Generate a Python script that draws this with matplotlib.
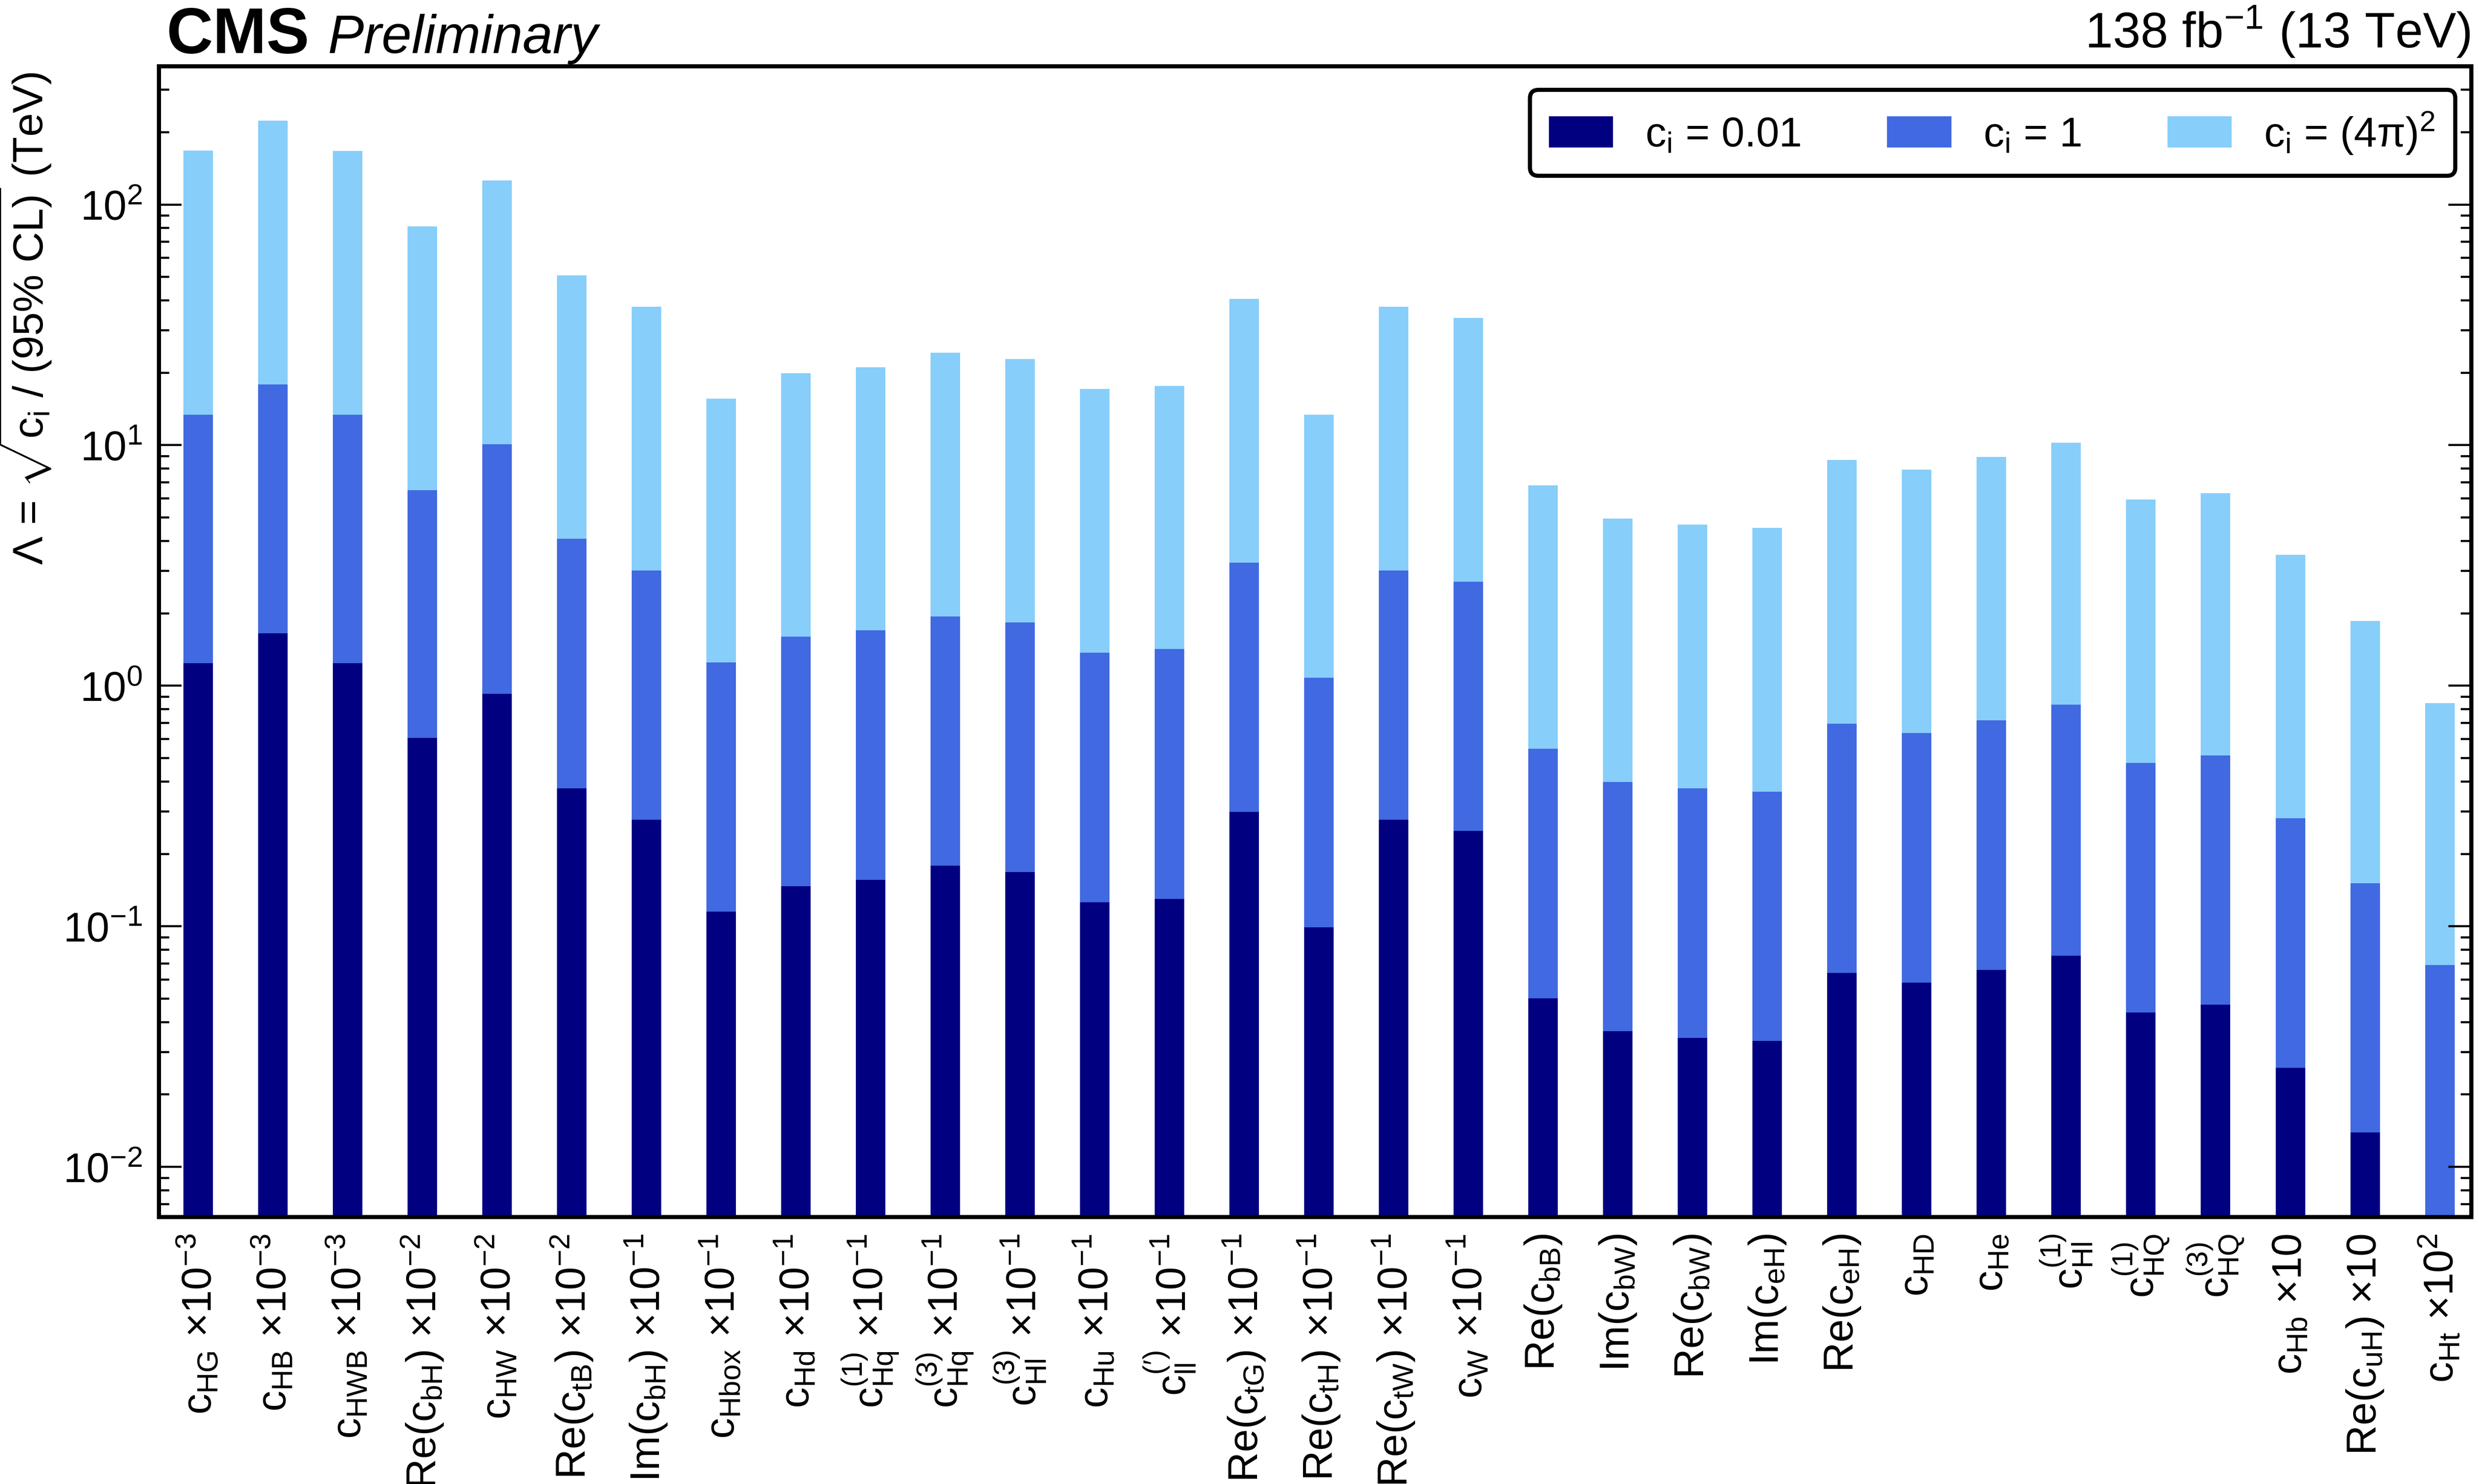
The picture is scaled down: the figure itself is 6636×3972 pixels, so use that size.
import numpy as np
import matplotlib
matplotlib.use("Agg")
import matplotlib.pyplot as plt
from matplotlib.patches import Patch

plt.rcParams['font.family'] = ['Liberation Sans', 'DejaVu Sans']
plt.rcParams['mathtext.fontset'] = 'custom'
plt.rcParams['mathtext.rm'] = 'Liberation Sans'
plt.rcParams['mathtext.it'] = 'Liberation Sans:italic'
plt.rcParams['mathtext.bf'] = 'Liberation Sans:bold'

# Wilson coefficient labels (with the scaling applied to each)
labels = [
    r"$\mathrm{c_{HG}}$ $\times$10$^{-3}$",
    r"$\mathrm{c_{HB}}$ $\times$10$^{-3}$",
    r"$\mathrm{c_{HWB}}$ $\times$10$^{-3}$",
    r"Re($\mathrm{c_{bH}}$) $\times$10$^{-2}$",
    r"$\mathrm{c_{HW}}$ $\times$10$^{-2}$",
    r"Re($\mathrm{c_{tB}}$) $\times$10$^{-2}$",
    r"Im($\mathrm{c_{bH}}$) $\times$10$^{-1}$",
    r"$\mathrm{c_{Hbox}}$ $\times$10$^{-1}$",
    r"$\mathrm{c_{Hd}}$ $\times$10$^{-1}$",
    r"$\mathrm{c_{Hq}^{(1)}}$ $\times$10$^{-1}$",
    r"$\mathrm{c_{Hq}^{(3)}}$ $\times$10$^{-1}$",
    r"$\mathrm{c_{Hl}^{(3)}}$ $\times$10$^{-1}$",
    r"$\mathrm{c_{Hu}}$ $\times$10$^{-1}$",
    r"$\mathrm{c_{ll}^{(\prime)}}$ $\times$10$^{-1}$",
    r"Re($\mathrm{c_{tG}}$) $\times$10$^{-1}$",
    r"Re($\mathrm{c_{tH}}$) $\times$10$^{-1}$",
    r"Re($\mathrm{c_{tW}}$) $\times$10$^{-1}$",
    r"$\mathrm{c_{W}}$ $\times$10$^{-1}$",
    r"Re($\mathrm{c_{bB}}$)",
    r"Im($\mathrm{c_{bW}}$)",
    r"Re($\mathrm{c_{bW}}$)",
    r"Im($\mathrm{c_{eH}}$)",
    r"Re($\mathrm{c_{eH}}$)",
    r"$\mathrm{c_{HD}}$",
    r"$\mathrm{c_{He}}$",
    r"$\mathrm{c_{Hl}^{(1)}}$",
    r"$\mathrm{c_{HQ}^{(1)}}$",
    r"$\mathrm{c_{HQ}^{(3)}}$",
    r"$\mathrm{c_{Hb}}$ $\times$10",
    r"Re($\mathrm{c_{uH}}$) $\times$10",
    r"$\mathrm{c_{Ht}}$ $\times$10$^{2}$",
]

# Lambda limits in TeV
lam_001 = [1.24, 1.65, 1.24, 0.607, 0.927, 0.375, 0.277, 0.115, 0.147, 0.156,
           0.179, 0.168, 0.126, 0.130, 0.299, 0.099, 0.277, 0.249, 0.0502, 0.0366,
           0.0344, 0.0334, 0.064, 0.0584, 0.0659, 0.0755, 0.0438, 0.0473, 0.0258, 0.0139,
           np.nan]
lam_1 = [13.4, 17.9, 13.4, 6.51, 10.1, 4.08, 3.01, 1.25, 1.60, 1.70,
         1.94, 1.83, 1.37, 1.42, 3.25, 1.08, 3.01, 2.71, 0.547, 0.398,
         0.375, 0.363, 0.696, 0.636, 0.717, 0.834, 0.477, 0.514, 0.281, 0.151,
         0.069]
lam_4pi2 = [167.6, 223, 167, 81.2, 125.8, 50.8, 37.6, 15.6, 19.9, 21.1,
            24.2, 22.8, 17.1, 17.6, 40.5, 13.4, 37.6, 33.8, 6.81, 4.96,
            4.67, 4.53, 8.68, 7.92, 8.94, 10.24, 5.95, 6.31, 3.5, 1.86,
            0.847]

colors = ['#000080', '#4169E1', '#87CEFA']
leg_labels = [r"$\mathrm{c_i}$ = 0.01", r"$\mathrm{c_i}$ = 1",
              r"$\mathrm{c_i}$ = (4$\mathrm{\pi}$)$^2$"]

fig = plt.figure(figsize=(16.59, 9.9325), dpi=400)
ax = fig.add_axes([0.06405, 0.17996, 0.9328, 0.7752])
ax.set_yscale('log')

x = np.arange(len(labels))
w = 0.395
ax.bar(x, lam_4pi2, width=w, color=colors[2])
ax.bar(x, lam_1, width=w, color=colors[1])
ax.bar(x, lam_001, width=w, color=colors[0])

ax.set_ylim(0.0062, 376)
ax.set_xlim(-0.525, 30.42)

ax.set_xticks(x, labels, rotation=90, va='top', ha='center', fontsize=20)
ax.tick_params(axis='x', length=0, pad=8)
ax.tick_params(axis='y', which='major', direction='in', length=11, width=1,
               right=True, labelsize=20, pad=8)
ax.tick_params(axis='y', which='minor', direction='in', length=5, width=1, right=True)
for s in ax.spines.values():
    s.set_linewidth(2)

ax.set_ylabel(r"$\Lambda$ = $\sqrt{\mathrm{c_i}\ /\ (95\%\ \mathrm{CL})}$ (TeV)",
              fontsize=20.5, loc='top')
ax.yaxis.set_label_coords(-0.0458, 0.995)

handles = [Patch(color=c) for c in colors]
leg = ax.legend(handles, leg_labels, ncol=3, loc='upper right',
                bbox_to_anchor=(0.993, 0.9795), fontsize=20, frameon=True,
                fancybox=True, edgecolor='black', framealpha=1,
                handlelength=1.5, handleheight=0.7, handletextpad=0.8,
                columnspacing=2.1, borderpad=0.48, borderaxespad=0)
leg.get_frame().set_linewidth(2)

fig.text(0.0672, 0.9643, "CMS", fontsize=31, fontweight='bold', va='baseline')
fig.text(0.1322, 0.9643, "Preliminary", fontsize=26, style='italic', va='baseline')
fig.text(0.9965, 0.9678, r"138 fb$^{-1}$ (13 TeV)", fontsize=24, ha='right', va='baseline')

fig.savefig('out.png', dpi=400)
